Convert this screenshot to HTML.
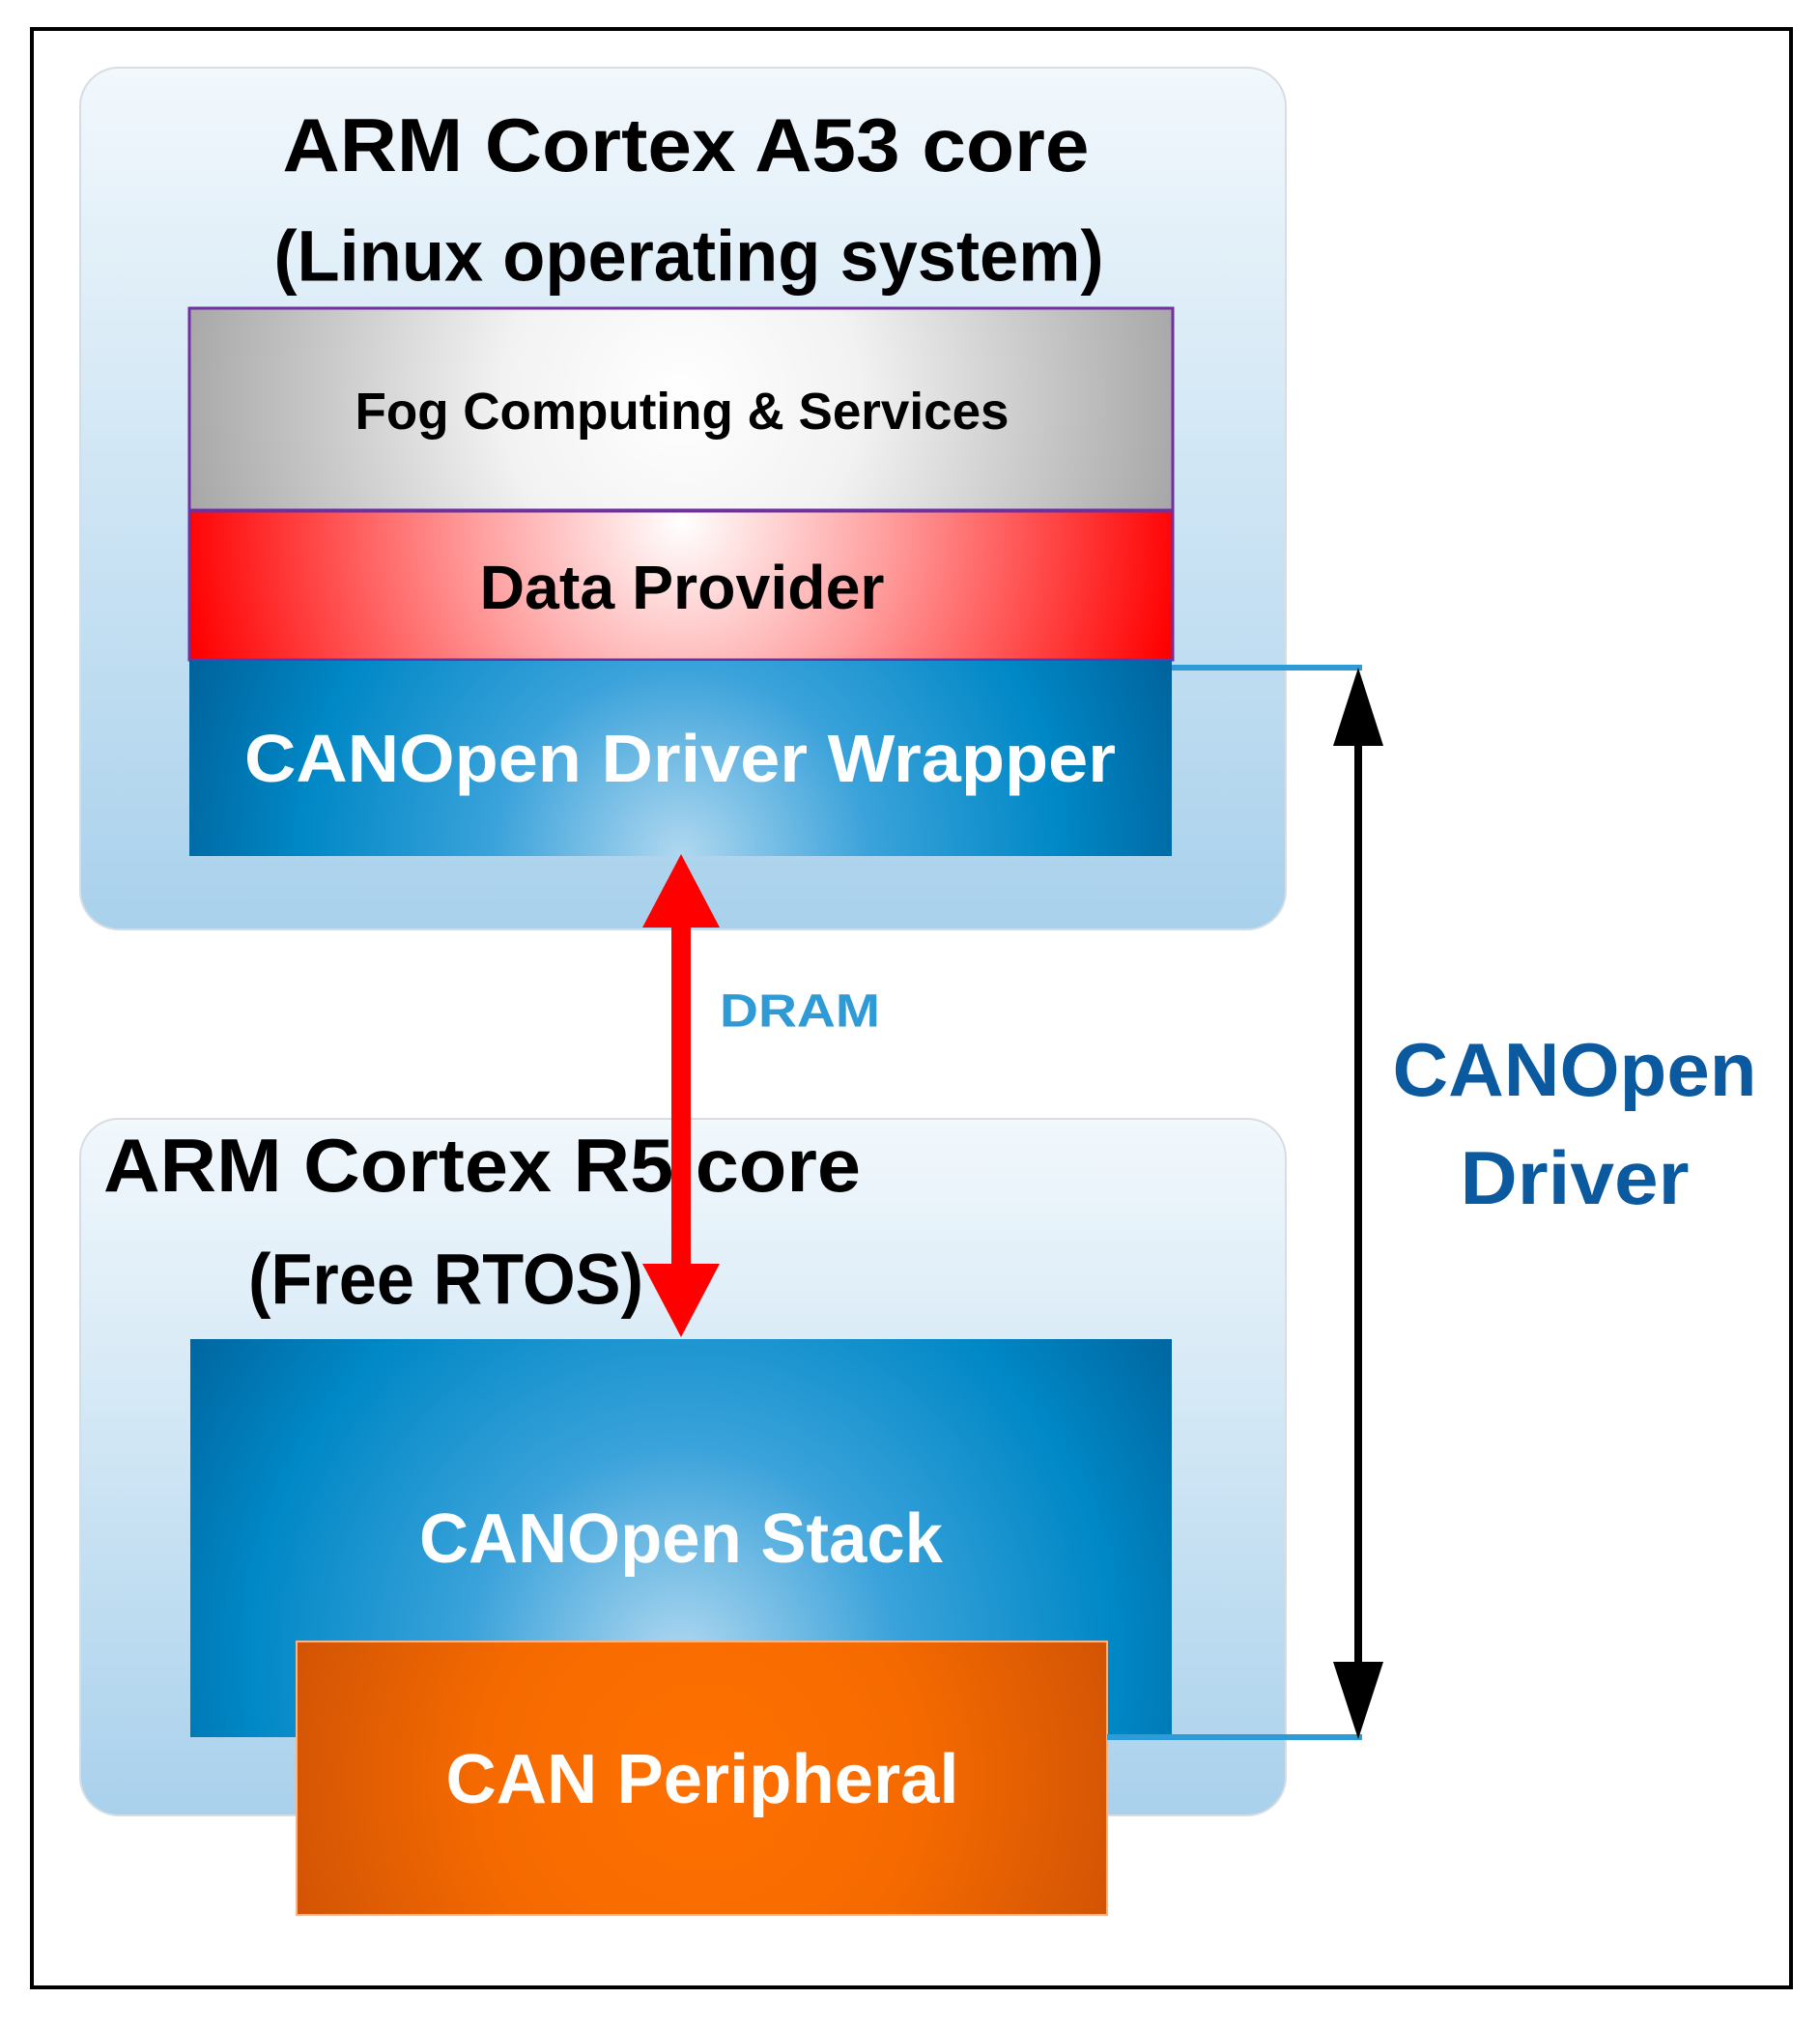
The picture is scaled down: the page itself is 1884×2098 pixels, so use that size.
<!DOCTYPE html>
<html><head><meta charset="utf-8"><style>html,body{margin:0;padding:0;background:#fff}svg{display:block}</style></head>
<body>
<svg width="1884" height="2098" viewBox="0 0 1884 2098" xmlns="http://www.w3.org/2000/svg" font-family="Liberation Sans, sans-serif" font-weight="bold">
<defs>
<linearGradient id="bg" x1="0" y1="0" x2="0" y2="1"><stop offset="0" stop-color="#f2f8fc"/><stop offset="1" stop-color="#a9d1ec"/></linearGradient>
<radialGradient id="grey" gradientUnits="userSpaceOnUse" cx="705" cy="410" r="530"><stop offset="0" stop-color="#ffffff"/><stop offset="0.35" stop-color="#f2f2f2"/><stop offset="1" stop-color="#a5a5a5"/></radialGradient>
<radialGradient id="red" gradientUnits="userSpaceOnUse" cx="705" cy="540" r="520"><stop offset="0" stop-color="#ffffff"/><stop offset="0.4" stop-color="#ffa0a0"/><stop offset="1" stop-color="#ff0000"/></radialGradient>
<radialGradient id="blue" gradientUnits="userSpaceOnUse" cx="705" cy="886" r="560"><stop offset="0" stop-color="#b0d8f0"/><stop offset="0.35" stop-color="#3aa2da"/><stop offset="0.7" stop-color="#0088c6"/><stop offset="1" stop-color="#005f98"/></radialGradient>
<radialGradient id="blue2" gradientUnits="userSpaceOnUse" cx="705" cy="1720" r="640"><stop offset="0" stop-color="#b0d8f0"/><stop offset="0.35" stop-color="#3aa2da"/><stop offset="0.7" stop-color="#0088c6"/><stop offset="1" stop-color="#005f98"/></radialGradient>
<radialGradient id="orange" gradientUnits="userSpaceOnUse" cx="727" cy="1840" r="460"><stop offset="0" stop-color="#ff7000"/><stop offset="0.5" stop-color="#f56a00"/><stop offset="1" stop-color="#cf5205"/></radialGradient>
</defs>
<rect x="33" y="30" width="1821" height="2027" fill="#fff" stroke="#000" stroke-width="4"/>
<rect x="83" y="70" width="1248" height="892" rx="40" fill="url(#bg)" stroke="#d6dde3" stroke-width="2"/>
<rect x="83" y="1158" width="1248" height="721" rx="40" fill="url(#bg)" stroke="#d6dde3" stroke-width="2"/>
<text x="710" y="150" font-size="78" text-anchor="middle" dominant-baseline="central" textLength="835" lengthAdjust="spacingAndGlyphs">ARM Cortex A53 core</text>
<text x="713" y="265" font-size="74" text-anchor="middle" dominant-baseline="central" textLength="859" lengthAdjust="spacingAndGlyphs">(Linux operating system)</text>
<rect x="196" y="319" width="1018" height="209" fill="url(#grey)" stroke="#7030a0" stroke-width="3"/>
<text x="706" y="426" font-size="54" text-anchor="middle" dominant-baseline="central" textLength="677" lengthAdjust="spacingAndGlyphs">Fog Computing &amp; Services</text>
<rect x="196" y="529" width="1018" height="154" fill="url(#red)" stroke="#7030a0" stroke-width="3"/>
<text x="706" y="608" font-size="64" text-anchor="middle" dominant-baseline="central" textLength="419" lengthAdjust="spacingAndGlyphs">Data Provider</text>
<rect x="196" y="684" width="1017" height="202" fill="url(#blue)"/>
<text x="704" y="785" font-size="70" fill="#fff" text-anchor="middle" dominant-baseline="central" textLength="902" lengthAdjust="spacingAndGlyphs">CANOpen Driver Wrapper</text>
<text x="107" y="1206" font-size="78" dominant-baseline="central" textLength="784" lengthAdjust="spacingAndGlyphs">ARM Cortex R5 core</text>
<text x="257" y="1324" font-size="74" dominant-baseline="central" textLength="409" lengthAdjust="spacingAndGlyphs">(Free RTOS)</text>
<rect x="197" y="1386" width="1016" height="412" fill="url(#blue2)"/>
<text x="705" y="1593" font-size="72" fill="#fff" text-anchor="middle" dominant-baseline="central" textLength="542" lengthAdjust="spacingAndGlyphs">CANOpen Stack</text>
<rect x="307" y="1699" width="839" height="283" fill="url(#orange)" stroke="#e8b89a" stroke-width="2"/>
<text x="727" y="1842" font-size="72" fill="#fff" text-anchor="middle" dominant-baseline="central" textLength="531" lengthAdjust="spacingAndGlyphs">CAN Peripheral</text>
<rect x="695" y="950" width="20" height="370" fill="#ff0000"/>
<polygon points="705,884 665,960 745,960" fill="#ff0000"/>
<polygon points="705,1384 665,1308 745,1308" fill="#ff0000"/>
<text x="828" y="1047" font-size="48" fill="#2e9bd6" text-anchor="middle" dominant-baseline="central" textLength="166" lengthAdjust="spacingAndGlyphs">DRAM</text>
<line x1="1213" y1="691" x2="1410" y2="691" stroke="#2e9bd6" stroke-width="6"/>
<line x1="1146" y1="1798" x2="1410" y2="1798" stroke="#2e9bd6" stroke-width="6"/>
<rect x="1402" y="760" width="8" height="970" fill="#000"/>
<polygon points="1406,691 1380,772 1432,772" fill="#000"/>
<polygon points="1406,1800 1380,1720 1432,1720" fill="#000"/>
<text x="1630" y="1107" font-size="78" fill="#0b5aa0" text-anchor="middle" dominant-baseline="central" textLength="377" lengthAdjust="spacingAndGlyphs">CANOpen</text>
<text x="1630" y="1219" font-size="78" fill="#0b5aa0" text-anchor="middle" dominant-baseline="central" textLength="237" lengthAdjust="spacingAndGlyphs">Driver</text>
</svg>
</body></html>
